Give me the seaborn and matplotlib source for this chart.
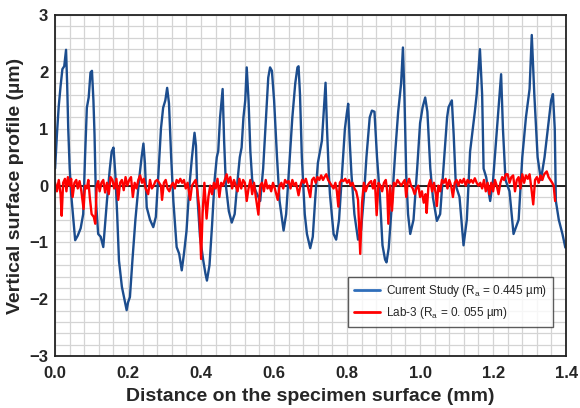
import pandas as pd
import matplotlib
matplotlib.use("Agg")
import matplotlib.pyplot as plt
import matplotlib.ticker as mticker
import seaborn as sns

# ── Data ──────────────────────────────────────────────────────────────────────
blue_x = [0.000, 0.005, 0.010, 0.015, 0.020, 0.025, 0.030, 0.033, 0.036, 0.040,
          0.044, 0.050, 0.055, 0.062, 0.070, 0.077, 0.082, 0.087, 0.092, 0.097,
          0.101, 0.105, 0.108, 0.112, 0.118, 0.125, 0.132, 0.138, 0.142, 0.150,
          0.155, 0.160, 0.165, 0.170, 0.175, 0.183, 0.190, 0.196, 0.200, 0.205,
          0.212, 0.220, 0.230, 0.237, 0.242, 0.246, 0.251, 0.260, 0.269, 0.276,
          0.283, 0.290, 0.296, 0.302, 0.307, 0.312, 0.318, 0.324, 0.333, 0.340,
          0.347, 0.353, 0.360, 0.368, 0.375, 0.382, 0.386, 0.390, 0.397, 0.406,
          0.412, 0.416, 0.423, 0.430, 0.437, 0.443, 0.447, 0.452, 0.459, 0.463,
          0.468, 0.476, 0.484, 0.492, 0.500, 0.506, 0.511, 0.516, 0.521, 0.525,
          0.530, 0.535, 0.540, 0.550, 0.562, 0.570, 0.578, 0.584, 0.589, 0.594,
          0.600, 0.608, 0.615, 0.626, 0.633, 0.642, 0.650, 0.658, 0.664, 0.667,
          0.671, 0.676, 0.684, 0.690, 0.699, 0.706, 0.713, 0.720, 0.731, 0.736,
          0.741, 0.745, 0.750, 0.753, 0.763, 0.770, 0.778, 0.786, 0.794, 0.799,
          0.803, 0.807, 0.812, 0.820, 0.830, 0.838, 0.846, 0.853, 0.862, 0.868,
          0.875, 0.882, 0.890, 0.897, 0.904, 0.908, 0.914, 0.923, 0.932, 0.940,
          0.948, 0.953, 0.957, 0.962, 0.967, 0.973, 0.982, 0.992, 1.000, 1.007,
          1.014, 1.020, 1.028, 1.035, 1.046, 1.055, 1.066, 1.074, 1.078, 1.087,
          1.092, 1.098, 1.108, 1.119, 1.128, 1.137, 1.150, 1.155, 1.164, 1.170,
          1.174, 1.181, 1.192, 1.200, 1.213, 1.222, 1.227, 1.234, 1.245, 1.256,
          1.270, 1.280, 1.290, 1.300, 1.306, 1.313, 1.322, 1.331, 1.341, 1.350,
          1.359, 1.364, 1.369, 1.372, 1.380, 1.390, 1.398]
blue_y = [0.30, 0.90, 1.40, 1.75, 2.05, 2.10, 2.39, 1.80, 1.00, 0.30,
          -0.15, -0.60, -0.96, -0.88, -0.75, -0.50, 0.50, 1.37, 1.55, 1.99,
          2.02, 1.50, 0.90, -0.27, -0.85, -0.90, -1.08, -0.60, -0.27, 0.30,
          0.60, 0.67, 0.20, -0.50, -1.32, -1.78, -2.00, -2.19, -2.05, -1.96,
          -1.30, -0.60, 0.10, 0.50, 0.74, 0.40, -0.38, -0.60, -0.73, -0.55,
          0.20, 1.00, 1.37, 1.50, 1.72, 1.45, 0.50, -0.27, -1.08, -1.20,
          -1.49, -1.20, -0.80, 0.00, 0.50, 0.93, 0.70, -0.20, -0.90, -1.32,
          -1.55, -1.67, -1.40, -0.70, 0.10, 0.50, 0.61, 1.20, 1.70, 0.80,
          0.00, -0.45, -0.65, -0.50, 0.10, 0.50, 0.67, 1.20, 1.50, 2.08,
          1.50, 0.60, 0.10, -0.10, -0.27, 0.30, 1.20, 1.90, 2.08, 2.02,
          1.50, 0.50, -0.27, -0.79, -0.50, 0.40, 1.20, 1.80, 2.08, 2.10,
          1.60, 0.50, -0.50, -0.85, -1.10, -0.90, -0.20, 0.40, 0.79, 1.30,
          1.81, 1.00, 0.20, -0.15, -0.85, -0.95, -0.60, 0.20, 1.00, 1.26,
          1.44, 0.80, 0.20, -0.50, -0.95, -0.80, -0.20, 0.50, 1.20, 1.32,
          1.30, 0.50, -0.20, -1.05, -1.30, -1.35, -1.10, -0.30, 0.60, 1.30,
          1.80, 2.43, 1.60, 0.20, -0.50, -0.85, -0.60, 0.30, 1.10, 1.38,
          1.55, 1.30, 0.30, -0.20, -0.62, -0.50, 0.50, 1.20, 1.38, 1.50,
          0.90, 0.00, -0.20, -1.05, -0.60, 0.60, 1.30, 1.60, 2.40, 1.60,
          0.30, 0.15, -0.27, 0.10, 1.20, 1.96, 1.00, 0.10, -0.10, -0.85,
          -0.60, 0.50, 1.20, 1.70, 2.65, 1.60, 0.50, 0.10, 0.50, 1.00,
          1.50, 1.61, 1.00, -0.27, -0.60, -0.85, -1.09]

red_x = [0.000, 0.005, 0.010, 0.015, 0.018, 0.022, 0.027, 0.031, 0.035, 0.040,
         0.044, 0.048, 0.053, 0.058, 0.062, 0.067, 0.072, 0.078, 0.082, 0.087,
         0.091, 0.095, 0.100, 0.106, 0.110, 0.114, 0.118, 0.122, 0.127, 0.132,
         0.137, 0.142, 0.147, 0.152, 0.157, 0.162, 0.168, 0.173, 0.178, 0.183,
         0.188, 0.193, 0.198, 0.203, 0.208, 0.213, 0.218, 0.223, 0.228, 0.233,
         0.238, 0.243, 0.248, 0.255, 0.260, 0.265, 0.270, 0.275, 0.280, 0.285,
         0.290, 0.293, 0.298, 0.303, 0.308, 0.313, 0.318, 0.323, 0.328, 0.333,
         0.338, 0.343, 0.348, 0.353, 0.358, 0.363, 0.370, 0.375, 0.380, 0.385,
         0.390, 0.395, 0.400, 0.404, 0.409, 0.415, 0.420, 0.425, 0.430, 0.435,
         0.440, 0.445, 0.450, 0.455, 0.460, 0.465, 0.470, 0.475, 0.480, 0.485,
         0.490, 0.495, 0.500, 0.505, 0.510, 0.515, 0.520, 0.525, 0.530, 0.535,
         0.540, 0.545, 0.550, 0.557, 0.562, 0.567, 0.572, 0.577, 0.582, 0.587,
         0.592, 0.597, 0.602, 0.610, 0.615, 0.620, 0.625, 0.630, 0.635, 0.640,
         0.645, 0.650, 0.655, 0.660, 0.667, 0.672, 0.677, 0.682, 0.687, 0.692,
         0.699, 0.704, 0.709, 0.714, 0.719, 0.724, 0.729, 0.734, 0.738, 0.743,
         0.748, 0.753, 0.758, 0.763, 0.768, 0.772, 0.776, 0.780, 0.785, 0.790,
         0.795, 0.800, 0.805, 0.810, 0.815, 0.820, 0.825, 0.830, 0.836, 0.841,
         0.846, 0.851, 0.856, 0.861, 0.866, 0.871, 0.876, 0.881, 0.886, 0.891,
         0.896, 0.901, 0.906, 0.910, 0.913, 0.918, 0.923, 0.928, 0.933, 0.938,
         0.943, 0.948, 0.953, 0.958, 0.962, 0.966, 0.970, 0.975, 0.980, 0.985,
         0.990, 0.995, 1.000, 1.005, 1.010, 1.015, 1.018, 1.023, 1.028, 1.033,
         1.038, 1.043, 1.046, 1.050, 1.055, 1.060, 1.065, 1.070, 1.075, 1.080,
         1.085, 1.090, 1.095, 1.100, 1.105, 1.110, 1.115, 1.120, 1.125, 1.130,
         1.135, 1.140, 1.145, 1.150, 1.155, 1.160, 1.165, 1.170, 1.175, 1.180,
         1.185, 1.190, 1.195, 1.200, 1.205, 1.210, 1.215, 1.220, 1.225, 1.230,
         1.235, 1.240, 1.245, 1.250, 1.255, 1.260, 1.265, 1.270, 1.275, 1.280,
         1.285, 1.290, 1.295, 1.300, 1.305, 1.310, 1.315, 1.320, 1.325, 1.330,
         1.335, 1.340, 1.347, 1.352, 1.357, 1.362, 1.366, 1.370]
red_y = [0.05, -0.10, 0.10, -0.15, -0.53, 0.05, 0.12, -0.10, 0.15, 0.00,
         0.12, -0.20, 0.05, 0.10, -0.05, 0.08, -0.10, -0.41, 0.00, -0.05,
         0.10, -0.20, -0.50, -0.55, -0.67, 0.00, 0.08, -0.10, 0.05, 0.10,
         -0.12, 0.05, -0.15, 0.15, 0.10, -0.05, 0.12, -0.25, 0.05, 0.10,
         -0.08, 0.15, 0.00, 0.10, 0.15, -0.20, 0.05, -0.05, 0.10, 0.18,
         0.05, 0.12, -0.05, -0.15, 0.10, -0.05, 0.00, 0.08, 0.10, 0.05,
         0.00, -0.25, 0.05, 0.10, -0.05, -0.10, 0.00, 0.05, -0.05, 0.10,
         0.05, 0.12, 0.05, 0.10, -0.05, 0.05, -0.25, 0.00, 0.05, 0.10,
         -0.10, -0.40, -1.29, -0.50, 0.05, -0.58, -0.20, 0.00, -0.15, 0.05,
         -0.05, 0.12, -0.20, 0.05, 0.00, 0.10, 0.20, 0.05, 0.15, -0.05,
         0.10, 0.00, -0.10, 0.12, -0.05, 0.10, 0.05, -0.27, -0.05, 0.10,
         -0.15, 0.05, -0.20, -0.51, 0.00, 0.05, -0.10, 0.10, -0.05, 0.00,
         -0.10, 0.05, -0.05, -0.25, 0.00, 0.05, -0.05, 0.10, 0.05, 0.08,
         -0.05, 0.10, 0.00, 0.05, -0.17, 0.00, 0.10, 0.05, 0.12, 0.00,
         -0.20, 0.10, 0.14, 0.05, 0.15, 0.10, 0.18, 0.10, 0.15, 0.20,
         0.10, 0.05, 0.00, -0.05, 0.05, -0.10, -0.37, 0.05, 0.10, 0.08,
         0.12, 0.05, 0.10, 0.00, 0.05, -0.05, -0.10, -0.25, -1.20, -0.30,
         0.05, -0.10, 0.00, 0.05, 0.08, -0.05, 0.10, -0.52, 0.05, 0.00,
         -0.10, 0.05, 0.10, -0.10, -0.67, 0.00, -0.44, 0.05, 0.00, 0.10,
         0.05, 0.00, 0.05, 0.10, -0.20, 0.05, 0.12, 0.00, -0.05, -0.15,
         -0.05, 0.00, -0.20, -0.10, -0.30, -0.15, -0.48, 0.00, 0.10, -0.10,
         0.05, -0.15, -0.36, 0.00, -0.10, 0.10, 0.05, 0.12, -0.05, 0.10,
         0.00, -0.20, 0.05, 0.10, 0.00, 0.10, 0.05, 0.12, 0.00, 0.10,
         0.05, 0.10, 0.05, 0.13, 0.05, 0.00, 0.05, -0.05, 0.10, -0.10,
         0.05, -0.15, 0.05, -0.10, 0.10, 0.00, -0.15, 0.05, 0.15, 0.10,
         0.20, 0.20, 0.05, 0.15, 0.18, -0.10, 0.10, 0.15, -0.05, 0.20,
         0.05, 0.18, 0.12, 0.20, -0.05, -0.33, 0.10, 0.15, 0.05, 0.18,
         0.10, 0.20, 0.25, 0.15, 0.10, 0.05, 0.00, -0.27]

series_names = ["Current Study (R$_\\mathregular{a}$ = 0.445 µm)",
                "Lab-3 (R$_\\mathregular{a}$ = 0. 055 µm)"]
series_colors = ["#1C4D8E", "#FF0000"]

# ── Build long-form table ─────────────────────────────────────────────────────
df = pd.concat([
    pd.DataFrame({"x": blue_x, "y": blue_y, "series": series_names[0]}),
    pd.DataFrame({"x": red_x, "y": red_y, "series": series_names[1]}),
], ignore_index=True)

sns.set_theme(style="white")
plt.rcParams["font.family"] = ["Liberation Sans", "DejaVu Sans"]
plt.rcParams["mathtext.fontset"] = "custom"
plt.rcParams["mathtext.rm"] = "Liberation Sans"

fig = plt.figure(figsize=(5.8, 4.08), dpi=100)
ax = fig.add_axes([0.095, 0.127, 0.881, 0.836])

ax.axhline(0, color="black", lw=1.2, zorder=1.5)
sns.lineplot(data=df, x="x", y="y", hue="series", sort=False, estimator=None,
             palette=dict(zip(series_names, series_colors)), lw=1.7, ax=ax,
             zorder=2)

ax.set_xlim(0, 1.4)
ax.set_ylim(-3, 3)
ax.xaxis.set_major_locator(mticker.MultipleLocator(0.2))
ax.xaxis.set_minor_locator(mticker.MultipleLocator(0.04))
ax.yaxis.set_major_locator(mticker.MultipleLocator(1))
ax.yaxis.set_minor_locator(mticker.MultipleLocator(0.2))
ax.xaxis.set_major_formatter(mticker.FormatStrFormatter("%.1f"))
ax.grid(which="both", color="#D4D4D4", lw=0.9, zorder=0)
ax.set_axisbelow(True)
ax.tick_params(which="major", direction="in", length=4, width=1,
               labelsize=12, pad=5)
ax.tick_params(axis="x", which="major", pad=7)
ax.tick_params(which="minor", length=0)
for lbl in ax.get_xticklabels() + ax.get_yticklabels():
    lbl.set_fontweight("bold")
for sp in ax.spines.values():
    sp.set_color("#222222")
    sp.set_linewidth(1.3)

ax.set_xlabel("Distance on the specimen surface (mm)", fontsize=14,
              fontweight="bold", labelpad=5)
ax.set_ylabel("Vertical surface profile (µm)", fontsize=14,
              fontweight="bold", labelpad=4)

leg = ax.legend(loc="lower right", bbox_to_anchor=(0.985, 0.068),
                fontsize=8.5, frameon=True, fancybox=False,
                handlelength=2.2, handletextpad=0.5,
                borderpad=0.5, labelspacing=0.5)
leg.get_frame().set_edgecolor("#333333")
leg.get_frame().set_linewidth(1.0)
leg.get_lines()[0].set_color("#2F6EBA")
for line in leg.get_lines():
    line.set_linewidth(2.0)

fig.savefig("out.png", dpi=100)
